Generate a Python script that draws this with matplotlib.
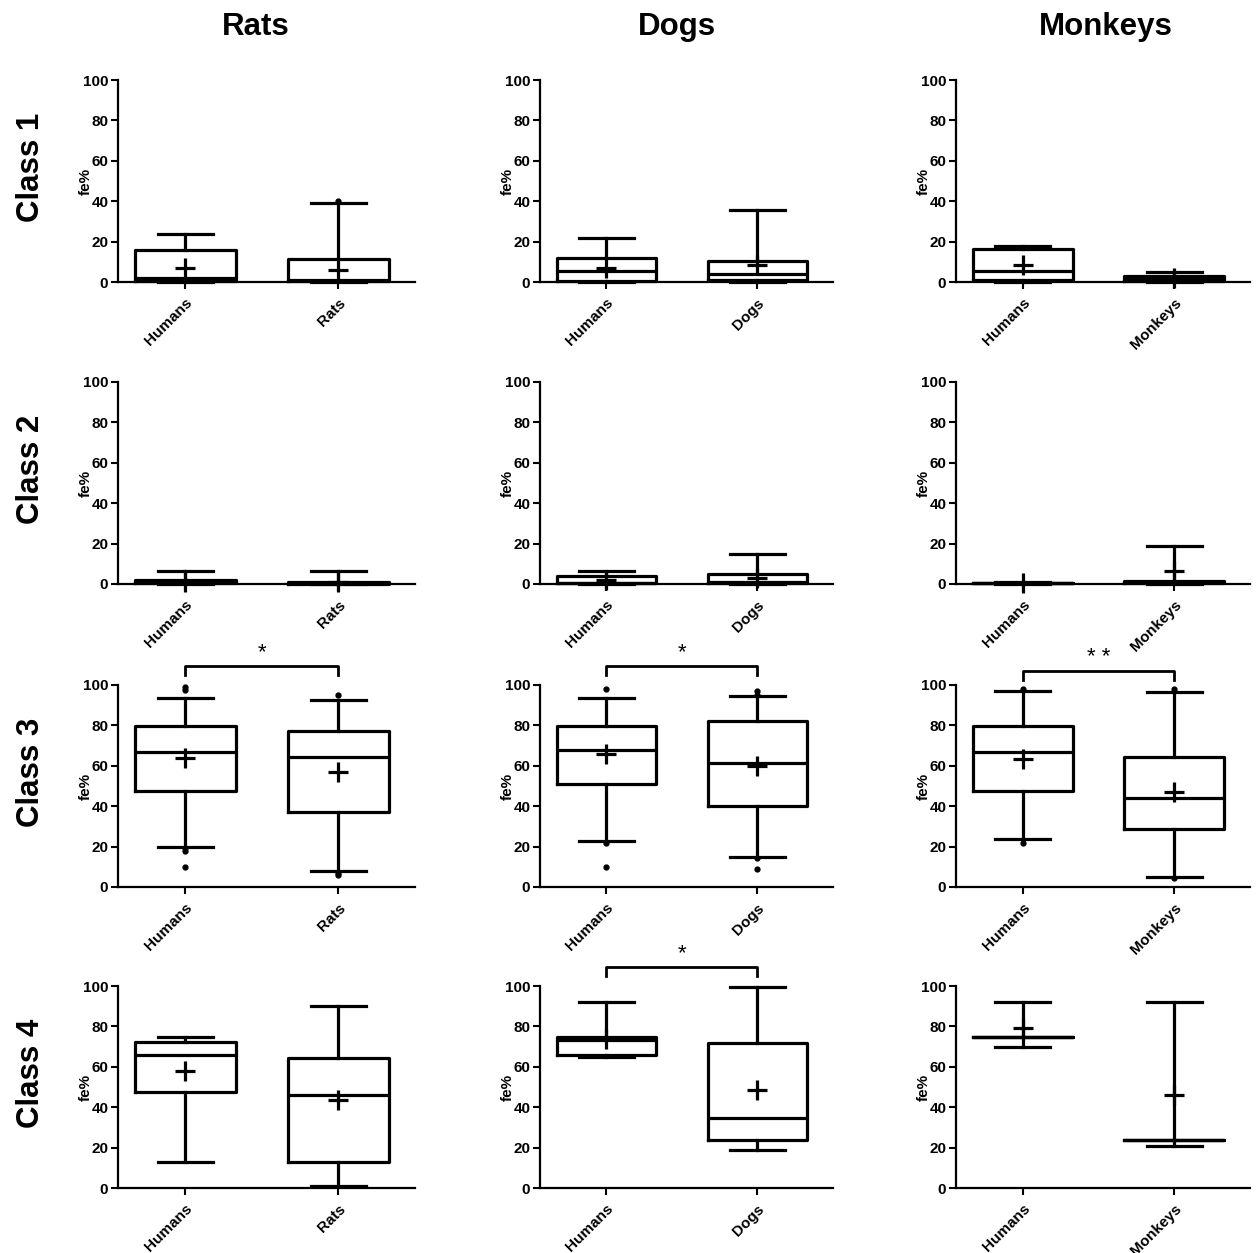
import matplotlib
matplotlib.use("Agg")
import matplotlib.pyplot as plt

plt.rcParams['font.family'] = ['Liberation Sans', 'DejaVu Sans']
plt.rcParams['font.weight'] = 'bold'

species = ['Rats', 'Dogs', 'Monkeys']
classes = ['Class 1', 'Class 2', 'Class 3', 'Class 4']

# per class -> per species -> [Humans, species]
whislo = [
    [[0, 0], [0, 0], [0, 0]],
    [[0, 0], [0, 0], [0, 0]],
    [[19.9, 8.1], [22.7, 15], [23.6, 4.9]],
    [[13, 0.8], [65, 19], [70, 21]],
]
q1 = [
    [[0.5, 0.5], [0.5, 1], [1, 0.5]],
    [[0.3, 0.2], [0.5, 0.5], [0.5, 0.5]],
    [[47.5, 37.2], [51.1, 40.2], [47.4, 28.7]],
    [[47.5, 12.7], [66, 24], [75, 24]],
]
med = [
    [[2, 1], [5.5, 3.8], [5.5, 1.7]],
    [[1, 0.5], [0.5, 1], [0.5, 1]],
    [[66.9, 64.3], [67.7, 61.3], [66.9, 44]],
    [[65.6, 46], [73.5, 34.9], [75, 24]],
]
q3 = [
    [[16, 11.6], [11.9, 10.6], [16.5, 3.1]],
    [[2, 1], [4.1, 4.8], [0.5, 1.5]],
    [[79.6, 77.3], [79.7, 82.2], [79.7, 64.4]],
    [[72.2, 64.5], [74.8, 71.8], [75, 24]],
]
whishi = [
    [[24, 39.3], [22, 35.7], [18, 4.8]],
    [[6.3, 6.3], [6.3, 15], [0.8, 18.6]],
    [[93.8, 92.8], [93.7, 94.7], [97, 96.4]],
    [[74.8, 90], [92, 99.7], [92, 92]],
]
means = [
    [[7, 6.1], [7.1, 8.4], [8.3, 2]],
    [[1, 1], [1.8, 3.1], [0.5, 6.6]],
    [[63.8, 56.7], [65.9, 60.1], [63.6, 47]],
    [[57.9, 43.4], [73.6, 48.4], [79, 45.8]],
]
outliers = [
    [[[], [40]], [[], []], [[], []]],
    [[[], []], [[], []], [[], []]],
    [[[98.8, 97.7, 19.5, 17.9, 9.7], [94.9, 5.8, 6.7]],
     [[97.9, 21.7, 9.7], [96.9, 95, 14.5, 8.7]],
     [[98, 22], [98, 4.4]]],
    [[[], []], [[], []], [[], []]],
]
# significance: (class index, species index, label, bracket height)
signif = [(2, 0, '*', 109.5), (2, 1, '*', 109.5), (2, 2, '* *', 107), (3, 1, '*', 109.4)]

fig = plt.figure(figsize=(12.59, 12.53), dpi=100)

lefts = [118, 540, 956]
widths = [297, 293, 294]
bottoms_px = [282, 584, 887, 1188]
H = 202
W, Hf = 1259, 1253

lw = 2.3
for r in range(4):
    for c in range(3):
        ax = fig.add_axes([lefts[c] / W, 1 - bottoms_px[r] / Hf, widths[c] / W, H / Hf])
        stats = []
        for g in range(2):
            stats.append(dict(whislo=whislo[r][c][g], q1=q1[r][c][g], med=med[r][c][g],
                              q3=q3[r][c][g], whishi=whishi[r][c][g], mean=means[r][c][g],
                              fliers=outliers[r][c][g]))
        arts = ax.bxp(stats, positions=[1, 2], widths=0.66, capwidths=0.36,
                      showmeans=True, patch_artist=False,
                      boxprops=dict(color='black', linewidth=lw),
                      medianprops=dict(color='black', linewidth=lw),
                      whiskerprops=dict(color='black', linewidth=lw),
                      capprops=dict(color='black', linewidth=lw),
                      meanprops=dict(marker='+', markersize=14, markeredgewidth=2.3,
                                     markeredgecolor='black'),
                      flierprops=dict(marker='o', markersize=3.5, markerfacecolor='black',
                                      markeredgecolor='black'))
        for k in arts:
            for a in arts[k]:
                a.set_clip_on(False)
        ax.set_xlim(0.56, 2.5)
        ax.set_ylim(0, 100)
        ax.set_yticks([0, 20, 40, 60, 80, 100])
        ax.set_xticks([1, 2])
        ax.set_xticklabels(['Humans', species[c]], rotation=45, ha='right',
                           rotation_mode='anchor', fontsize=11, fontweight='bold')
        ax.tick_params(axis='y', labelsize=11, width=1.5, length=5, pad=2)
        ax.tick_params(axis='x', width=1.5, length=5, pad=5)
        for lab in ax.get_yticklabels():
            lab.set_fontweight('bold')
        for s in ['top', 'right']:
            ax.spines[s].set_visible(False)
        for s in ['left', 'bottom']:
            ax.spines[s].set_linewidth(1.6)
        ax.set_ylabel('fe%', fontsize=11, fontweight='bold')
        ax.yaxis.set_label_coords(-0.085, 0.5)

        for (ri, ci, lab, hy) in signif:
            if ri == r and ci == c:
                ax.plot([1, 1, 2, 2], [hy - 4.5, hy, hy, hy - 4.5], color='black',
                        linewidth=2, clip_on=False)
                ax.text(1.5, hy + 1.5, lab, ha='center', va='bottom', fontsize=16,
                        fontweight='normal')

# column titles
col_x = [256, 677, 1106]
for c in range(3):
    fig.text(col_x[c] / W, 1 - 27 / Hf, species[c], ha='center', va='center',
             fontsize=22.5, fontweight='bold')

# row labels
for r in range(4):
    yc = bottoms_px[r] - H / 2 - 14
    fig.text(31 / W, 1 - yc / Hf, classes[r], ha='center', va='center', rotation=90,
             fontsize=22.5, fontweight='bold')

fig.savefig('out.png', dpi=100)
